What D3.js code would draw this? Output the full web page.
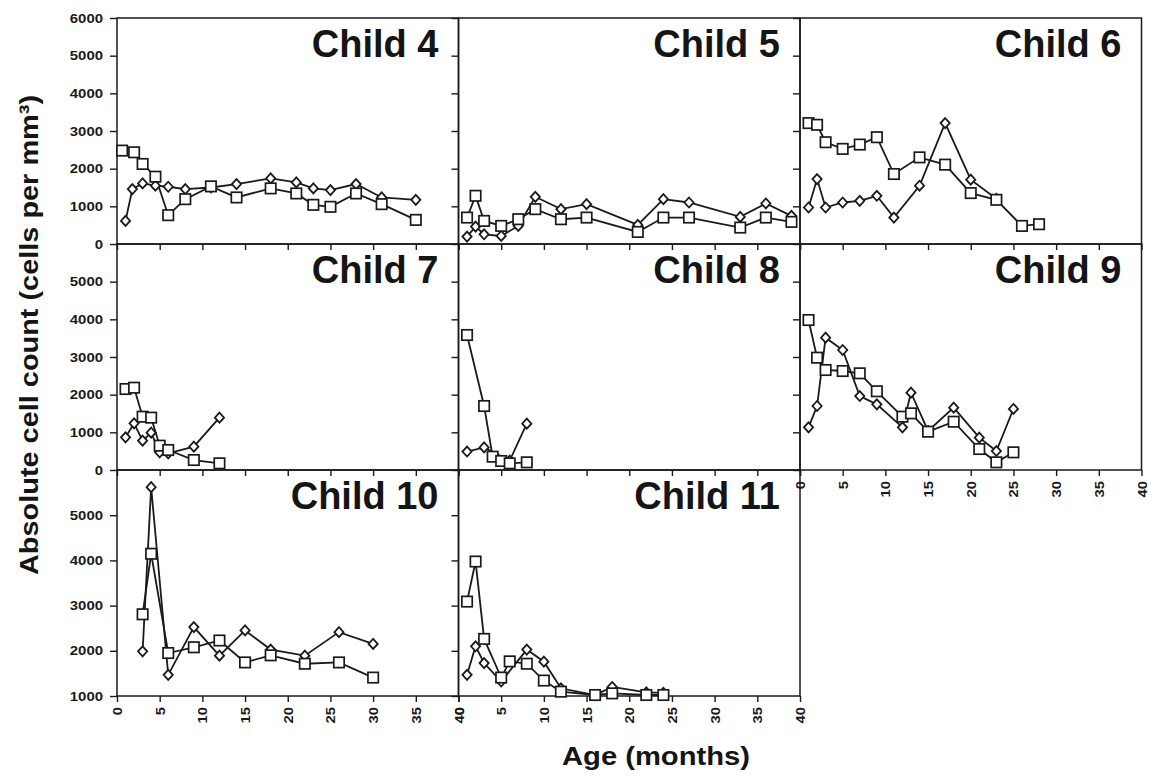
<!DOCTYPE html>
<html>
<head>
<meta charset="utf-8">
<script src="https://cdn.jsdelivr.net/npm/d3@7"></script>
<style>
  html, body { margin: 0; padding: 0; background: #fff; }
  svg { display: block; }
  text { font-family: "Liberation Sans", Arial, Helvetica, sans-serif; font-weight: bold; fill: #151515; }
</style>
</head>
<body>
<svg id="chart" width="1160" height="781"></svg>
<script>
// ---------- data (months, absolute cell counts) ----------
const xTicks = [0, 5, 10, 15, 20, 25, 30, 35, 40];
const yTicksTop = [0, 1000, 2000, 3000, 4000, 5000, 6000];
const yTicksMid = [0, 1000, 2000, 3000, 4000, 5000];
const yTicksLow = [1000, 2000, 3000, 4000, 5000];

const c4SqM = [0.6, 2, 3, 4.5, 6, 8, 11, 14, 18, 21, 23, 25, 28, 31, 35];
const c4SqV = [2480, 2435, 2125, 1787, 765, 1190, 1530, 1236, 1476, 1342, 1040, 987, 1342, 1058, 640];
const c4DiM = [1, 1.8, 3, 4.5, 6, 8, 11, 14, 18, 21, 23, 25, 28, 31, 35];
const c4DiV = [613, 1458, 1608, 1547, 1520, 1458, 1500, 1591, 1742, 1636, 1476, 1431, 1591, 1236, 1173];

const c5M = [1, 2, 3, 5, 7, 9, 12, 15, 21, 24, 27, 33, 36, 39];
const c5SqV = [702, 1280, 613, 480, 658, 925, 658, 702, 320, 702, 702, 436, 702, 587];
const c5DiV = [196, 462, 258, 213, 480, 1253, 925, 1058, 507, 1191, 1102, 720, 1076, 747];

const c6SqM = [1, 2, 3, 5, 7, 9, 11, 14, 17, 20, 23, 26, 28];
const c6SqV = [3210, 3165, 2702, 2525, 2640, 2835, 1858, 2300, 2107, 1352, 1173, 480, 525];
const c6DiM = [1, 2, 3, 5, 7, 9, 11, 14, 17, 20, 23];
const c6DiV = [969, 1724, 969, 1102, 1147, 1280, 702, 1547, 3210, 1707, 1200];

const c7M = [1, 2, 3, 4, 5, 6, 9, 12];
const c7SqV = [2150, 2185, 1415, 1390, 646, 531, 265, 177];
const c7DiV = [867, 1239, 779, 991, 469, 442, 619, 1390];

const c8SqM = [1, 3, 4, 5, 6, 8];
const c8SqV = [3584, 1699, 354, 239, 177, 204];
const c8DiM = [1, 3, 6, 8];
const c8DiV = [490, 600, 250, 1230];

const c9M = [1, 2, 3, 5, 7, 9, 12, 13, 15, 18, 21, 23, 25];
const c9SqV = [3982, 2982, 2655, 2628, 2567, 2090, 1415, 1504, 1017, 1282, 557, 204, 469];
const c9DiV = [1133, 1699, 3513, 3186, 1964, 1743, 1133, 2053, 1036, 1655, 858, 504, 1620];

const c10M = [3, 4, 6, 9, 12, 15, 18, 22, 26, 30];
const c10SqV = [2808, 4147, 1951, 2078, 2228, 1743, 1900, 1714, 1743, 1408];
const c10DiV = [1989, 5620, 1469, 2525, 1893, 2451, 2027, 1893, 2413, 2152];

const c11SqM = [1, 2, 3, 5, 6, 8, 10, 12, 16, 18, 22, 24];
const c11SqV = [3089, 3975, 2263, 1408, 1766, 1714, 1342, 1096, 1022, 1058, 1022, 1022];
const c11DiM = [1, 2, 3, 5, 8, 10, 12, 16, 18, 22, 24];
const c11DiV = [1469, 2100, 1728, 1320, 2027, 1760, 1170, 1020, 1200, 1080, 1070];

// ---------- panel table built from the arrays ----------
const panels = [
  {name: "Child 4",  col: 0, row: 0, sqM: c4SqM, sqV: c4SqV, diM: c4DiM, diV: c4DiV, xLab: false},
  {name: "Child 5",  col: 1, row: 0, sqM: c5M,   sqV: c5SqV, diM: c5M,   diV: c5DiV, xLab: false},
  {name: "Child 6",  col: 2, row: 0, sqM: c6SqM, sqV: c6SqV, diM: c6DiM, diV: c6DiV, xLab: false},
  {name: "Child 7",  col: 0, row: 1, sqM: c7M,   sqV: c7SqV, diM: c7M,   diV: c7DiV, xLab: false},
  {name: "Child 8",  col: 1, row: 1, sqM: c8SqM, sqV: c8SqV, diM: c8DiM, diV: c8DiV, xLab: false},
  {name: "Child 9",  col: 2, row: 1, sqM: c9M,   sqV: c9SqV, diM: c9M,   diV: c9DiV, xLab: true},
  {name: "Child 10", col: 0, row: 2, sqM: c10M,  sqV: c10SqV, diM: c10M, diV: c10DiV, xLab: true},
  {name: "Child 11", col: 1, row: 2, sqM: c11SqM, sqV: c11SqV, diM: c11DiM, diV: c11DiV, xLab: true}
];

// ---------- layout ----------
const svg = d3.select("#chart");
const colX = [117, 458.5, 800];
const rowY = [18, 244, 470];
const pw = 341.5, ph = 226;
const rowDomains = [[0, 6000], [0, 6000], [1000, 6000]];
const rowTicks = [yTicksTop, yTicksMid, yTicksLow];
const ink = "#1a1a1a";

panels.forEach(p => {
  const x0 = colX[p.col], y0 = rowY[p.row];
  const g = svg.append("g").attr("transform", `translate(${x0},${y0})`);
  const x = d3.scaleLinear().domain([0, 40]).range([0, pw]);
  const y = d3.scaleLinear().domain(rowDomains[p.row]).range([ph, 0]);

  // y axis (ticks outward)
  const yAx = d3.axisLeft(y).tickValues(rowTicks[p.row]).tickSize(7).tickPadding(7)
    .tickFormat(p.col === 0 ? d3.format("d") : () => "");
  const yg = g.append("g").call(yAx);
  yg.select(".domain").remove();
  yg.selectAll("line").attr("stroke", ink).attr("stroke-width", 1.4);
  yg.selectAll("text").attr("font-size", 12.5)
    .attr("textLength", d => String(d).length * 8.3)
    .attr("lengthAdjust", "spacingAndGlyphs")
    .style("fill", ink);

  // x axis (ticks outward)
  const xAx = d3.axisBottom(x).tickValues(xTicks).tickSize(6)
    .tickFormat(p.xLab ? d3.format("d") : () => "");
  const xg = g.append("g").attr("transform", `translate(0,${ph})`).call(xAx);
  xg.select(".domain").remove();
  xg.selectAll("line").attr("stroke", ink).attr("stroke-width", 1.4);
  xg.selectAll("text")
    .attr("transform", "rotate(-90)")
    .attr("text-anchor", "end")
    .attr("x", -11).attr("y", 0).attr("dy", "0.36em")
    .attr("font-size", 12.5)
    .attr("textLength", d => String(d).length * 8.2)
    .attr("lengthAdjust", "spacingAndGlyphs")
    .style("fill", ink);

  // frame
  g.append("rect").attr("x", 0).attr("y", 0).attr("width", pw).attr("height", ph)
    .attr("fill", "none").attr("stroke", ink).attr("stroke-width", 1.5);

  // title
  g.append("text").attr("x", pw - 20).attr("y", 39).attr("text-anchor", "end")
    .attr("font-size", 38).text(p.name);

  const line = d3.line().x(d => x(d[0])).y(d => y(d[1]));
  const sq = p.sqM.map((m, i) => [m, p.sqV[i]]);
  const di = p.diM.map((m, i) => [m, p.diV[i]]);

  g.append("path").datum(di).attr("d", line).attr("fill", "none")
    .attr("stroke", ink).attr("stroke-width", 1.8);
  g.append("path").datum(sq).attr("d", line).attr("fill", "none")
    .attr("stroke", ink).attr("stroke-width", 1.8);

  // diamond markers
  g.selectAll(".di").data(di).join("path").attr("class", "di")
    .attr("transform", d => `translate(${x(d[0])},${y(d[1])})`)
    .attr("d", "M0,-5L4.6,0L0,5L-4.6,0Z")
    .attr("fill", "#fff").attr("stroke", ink).attr("stroke-width", 1.8);

  // square markers
  g.selectAll(".sq").data(sq).join("rect").attr("class", "sq")
    .attr("x", d => x(d[0]) - 5.2).attr("y", d => y(d[1]) - 5.2)
    .attr("width", 10.4).attr("height", 10.4)
    .attr("fill", "#fff").attr("stroke", ink).attr("stroke-width", 1.7);
});

// axis titles
svg.append("text")
  .attr("transform", "translate(38,335) rotate(-90)")
  .attr("text-anchor", "middle")
  .attr("font-size", 25)
  .attr("textLength", 480).attr("lengthAdjust", "spacingAndGlyphs")
  .text("Absolute cell count (cells per mm³)");

svg.append("text")
  .attr("x", 656).attr("y", 765)
  .attr("text-anchor", "middle")
  .attr("font-size", 25)
  .attr("textLength", 188).attr("lengthAdjust", "spacingAndGlyphs")
  .text("Age (months)");
</script>
</body>
</html>
